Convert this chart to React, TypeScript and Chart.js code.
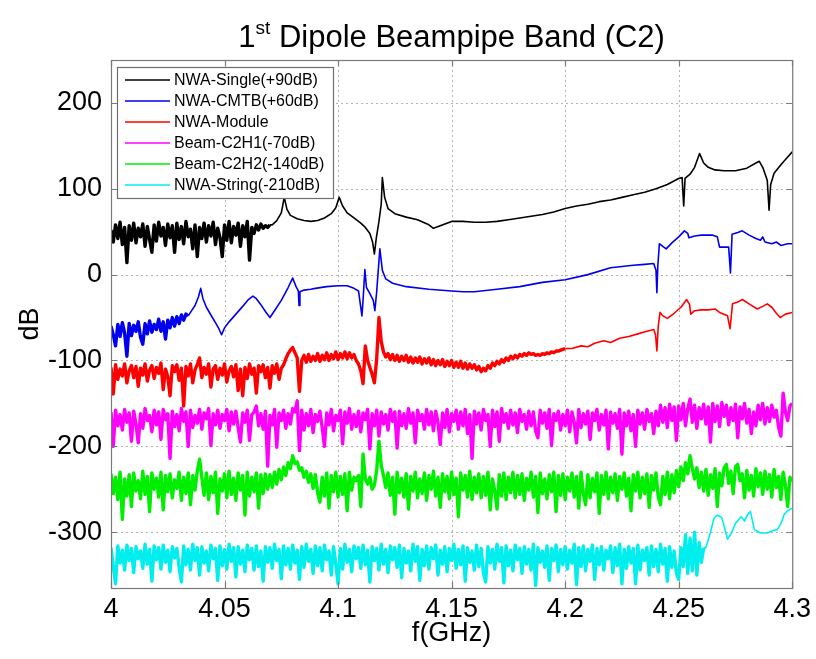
import { useEffect, useRef } from "react";
import { Chart, registerables } from "chart.js";

Chart.register(...registerables);

const FONT = '"Liberation Sans", Arial, sans-serif';

const xTicks = [4, 4.05, 4.1, 4.15, 4.2, 4.25, 4.3];
const yTicks = [-300, -200, -100, 0, 100, 200];
const xRange = [4, 4.3];
const yRange = [-365, 250];

const seriesNames = [
  "NWA-Single(+90dB)",
  "NWA-CMTB(+60dB)",
  "NWA-Module",
  "Beam-C2H1(-70dB)",
  "Beam-C2H2(-140dB)",
  "NWA-String(-210dB)",
];
const seriesColors = ["#000000", "#0000ee", "#ff0000", "#ff00ff", "#00ee00", "#00eeee"];

// dense sweep samples start at 4.000 GHz, one every 1 MHz
const sweepStart = 4.0;
const sweepStep = 0.001;

const blackSweep = [
  52, 38, 58, 42, 61, 35, 55, 14, 57, 40,
  60, 37, 54, 44, 59, 33, 56, 41, 26, 58,
  39, 61, 45, 55, 34, 59, 43, 57, 26, 60,
  41, 56, 36, 62, 44, 53, 30, 58, 21, 55,
  42, 60, 38, 57, 45, 61, 35, 54, 43, 21,
  58, 40, 62, 37, 56, 46, 60, 33, 57, 44,
  62, 17, 55, 48, 58, 52, 59, 54, 57, 55, 58,
];
const blackTail: [number, number][] = [
  [4.071, 58], [4.073, 63], [4.075, 72], [4.0763, 90], [4.0775, 76], [4.079, 69], [4.082, 65],
  [4.085, 63], [4.088, 62], [4.091, 63], [4.094, 66], [4.097, 71], [4.099, 78], [4.1005, 90],
  [4.102, 80], [4.104, 72], [4.107, 66], [4.11, 60], [4.112, 55], [4.114, 48], [4.1152, 38],
  [4.116, 24], [4.1168, 42], [4.118, 62], [4.119, 82], [4.1195, 113], [4.1205, 90], [4.122, 77],
  [4.125, 71], [4.13, 67], [4.135, 64], [4.14, 58], [4.142, 54], [4.145, 57], [4.15, 62],
  [4.155, 62], [4.16, 61], [4.165, 61], [4.17, 62], [4.175, 64], [4.18, 66], [4.185, 68],
  [4.19, 70], [4.195, 73], [4.2, 77], [4.205, 80], [4.21, 82], [4.215, 85], [4.22, 87],
  [4.225, 90], [4.23, 93], [4.235, 96], [4.24, 100], [4.245, 105], [4.25, 112], [4.2515, 113],
  [4.2522, 80], [4.2528, 112], [4.255, 117], [4.257, 125], [4.2592, 141], [4.261, 130],
  [4.263, 125], [4.266, 122], [4.27, 121], [4.275, 121], [4.28, 124], [4.284, 130], [4.2855, 132],
  [4.287, 125], [4.289, 110], [4.2898, 75], [4.2905, 105], [4.292, 118], [4.295, 128],
  [4.298, 137], [4.3, 143],
];

const blueSweep = [
  -60, -70, -83, -58, -72, -56, -68, -95, -57, -71,
  -59, -66, -55, -73, -81, -57, -69, -54, -67, -58,
  -64, -52, -66, -55, -75, -53, -62, -50, -60, -49,
  -57, -47, -53, -46, -48,
];
const blueTail: [number, number][] = [
  [4.035, -44], [4.037, -36], [4.0385, -26], [4.0395, -16], [4.0405, -28], [4.042, -38],
  [4.044, -47], [4.046, -56], [4.0475, -63], [4.0487, -70], [4.05, -62], [4.052, -55],
  [4.055, -46], [4.058, -37], [4.0605, -29], [4.0625, -25], [4.064, -28], [4.066, -35],
  [4.068, -43], [4.07, -50], [4.072, -42], [4.075, -30], [4.078, -15], [4.08, -4],
  [4.0815, -14], [4.0825, -19], [4.0828, -36], [4.0832, -20], [4.085, -18], [4.088, -17],
  [4.09, -16], [4.095, -14], [4.1, -13], [4.104, -13], [4.107, -16], [4.109, -19],
  [4.1105, -48], [4.111, -30], [4.1118, 6], [4.1125, -15], [4.114, -22], [4.1155, -30],
  [4.1162, -42], [4.117, -20], [4.1184, 30], [4.1195, 5], [4.121, -5], [4.124, -10],
  [4.13, -14], [4.14, -17], [4.15, -19], [4.155, -20], [4.16, -20], [4.17, -17], [4.18, -14],
  [4.19, -9], [4.2, -6], [4.21, 0], [4.22, 8], [4.23, 11], [4.235, 12], [4.239, 13],
  [4.24, 5], [4.2404, -21], [4.2408, 10], [4.2415, 36], [4.243, 33], [4.2445, 30],
  [4.247, 37], [4.25, 44], [4.2525, 51], [4.254, 48], [4.2545, 43], [4.257, 45], [4.26, 46],
  [4.265, 46], [4.267, 44], [4.268, 32], [4.272, 32], [4.2728, 2], [4.2735, 47], [4.276, 49],
  [4.278, 51], [4.281, 46], [4.284, 42], [4.286, 40], [4.287, 44], [4.288, 38], [4.291, 36],
  [4.293, 38], [4.295, 34], [4.298, 36], [4.3, 36],
];

const redSweep = [
  -108, -139, -105, -122, -110, -118, -104, -126, -112, -106,
  -120, -107, -130, -109, -117, -104, -124, -111, -106, -121,
  -108, -115, -103, -134, -110, -119, -141, -106, -113, -105,
  -123, -109, -153, -107, -118, -104, -126, -111, -105, -97,
  -120, -108, -116, -104, -131, -110, -106, -122, -109, -117,
  -104, -125, -112, -107, -119, -105, -135, -110, -141, -108,
  -121, -104, -116, -109, -138, -106, -113, -105, -120, -108,
  -132, -106, -115, -104, -122, -109, -105,
  -98, -92, -88, -85, -91, -97, -136, -100,
  -94, -102, -93, -101, -95, -100, -92, -101, -94, -99,
  -91, -100, -93, -98, -90, -99, -92, -97, -90, -98,
  -91, -97, -93, -100, -104,
  -112, -127, -83, -100, -108, -116, -126, -98, -50, -78, -90, -96,
  -92, -99, -93, -100, -94, -101, -95, -100, -94, -102,
  -96, -103, -97, -102, -96, -104, -98, -103, -97, -105,
  -99, -106, -100, -105, -99, -107, -101, -106, -100, -108,
  -102, -108, -101, -109, -103, -110, -104, -109, -105, -111,
  -107, -113, -109, -112, -106, -109, -103, -106, -101, -104,
  -99, -102, -97, -100, -95, -98, -94, -97, -93, -95,
  -92, -94, -91, -93, -92, -94, -93, -94, -92, -93,
  -91, -92, -90, -91, -89, -89, -88, -87, -86,
];
const redTail: [number, number][] = [
  [4.203, -86], [4.207, -83], [4.21, -84], [4.213, -80], [4.217, -77], [4.22, -79],
  [4.224, -74], [4.228, -72], [4.232, -69], [4.236, -66], [4.239, -64], [4.2398, -70],
  [4.2404, -89], [4.241, -60], [4.2418, -44], [4.243, -48], [4.245, -51], [4.248, -45],
  [4.251, -38], [4.2535, -29], [4.2548, -35], [4.2553, -46], [4.257, -42], [4.26, -41],
  [4.263, -41], [4.266, -40], [4.268, -44], [4.2715, -48], [4.2726, -63], [4.2737, -34],
  [4.276, -32], [4.278, -29], [4.281, -34], [4.2846, -40], [4.287, -37], [4.289, -34],
  [4.291, -38], [4.293, -45], [4.2947, -50], [4.297, -46], [4.3, -44],
];

const magentaSweep = [
  -160, -200, -158, -176, -163, -181, -157, -172, -161, -194,
  -159, -174, -196, -162, -179, -156, -170, -164, -183, -158,
  -175, -160, -192, -157, -169, -162, -214, -159, -177, -163,
  -182, -156, -171, -160, -200, -158, -178, -164, -173, -157,
  -180, -161, -168, -156, -199, -162, -175, -158, -179, -163,
  -170, -157, -182, -160, -174, -159, -178, -195, -161, -172,
  -158, -193, -163, -160, -153, -176, -162, -180, -159, -223,
  -164, -175, -157, -201, -161, -170, -158, -179, -162, -174,
  -156, -160, -147, -205, -158, -181, -162, -176, -157, -184,
  -163, -171, -159, -178, -200, -161, -175, -157, -182, -164,
  -170, -158, -197, -160, -173, -156, -180, -163, -177, -159,
  -183, -161, -169, -157, -203, -162, -176, -158, -188, -160,
  -174, -163, -181, -157, -171, -160, -202, -159, -176, -162,
  -179, -156, -173, -161, -196, -158, -170, -163, -180, -157,
  -175, -160, -182, -159, -172, -198, -161, -178, -157, -183,
  -162, -171, -158, -180, -160, -176, -157, -185, -163, -214,
  -159, -174, -161, -181, -157, -170, -163, -200, -158, -177,
  -160, -194, -156, -172, -162, -179, -158, -175, -161, -184,
  -157, -171, -163, -180, -159, -176, -160, -182, -190, -158,
  -173, -161, -179, -157, -199, -162, -170, -159, -181, -163,
  -176, -158, -183, -160, -172, -196, -157, -178, -162, -174,
  -159, -192, -161, -170, -157, -181, -163, -175, -158, -203,
  -160, -173, -162, -179, -157, -209, -161, -176, -159, -182,
  -163, -200, -158, -174, -161, -180, -157, -171, -162, -185,
  -159, -176, -152, -172, -155, -178, -151, -170, -154, -193,
  -153, -169, -150, -176, -156, -145, -172, -152, -179, -155,
  -168, -151, -174, -154, -195, -150, -171, -153, -177, -149,
  -165, -152, -175, -155, -170, -151, -190, -154, -168, -150,
  -173, -157, -185, -160, -176, -152, -169, -150, -174, -155,
  -171, -152, -166, -158, -178, -188, -138, -160, -170, -153, -150,
];

const greenSweep = [
  -232, -255, -236, -262, -230, -285, -238, -258, -233, -270,
  -231, -252, -240, -261, -229, -256, -235, -276, -231, -250,
  -237, -259, -230, -274, -234, -253, -232, -260, -239, -249,
  -230, -263, -236, -255, -231, -268, -234, -251, -229, -215,
  -236, -257, -231, -262, -235, -254, -230, -278, -238, -252,
  -232, -260, -229, -256, -237, -263, -231, -251, -234, -280,
  -230, -258, -236, -253, -231, -272, -233, -255, -232, -250,
  -233, -248, -230, -244, -227, -239, -224, -234, -219, -226,
  -211, -220, -218, -228, -225, -236, -229, -242, -232, -249,
  -233, -254, -265, -236, -258, -231, -272, -234, -253, -230,
  -259, -235, -256, -232, -275, -230, -251, -236, -240, -234,
  -270, -209, -238, -244, -236, -250, -245, -228, -194, -222,
  -234, -248, -231, -257, -236, -279, -230, -254, -237, -259,
  -232, -273, -235, -252, -230, -260, -238, -255, -231, -263,
  -234, -250, -229, -258, -236, -271, -232, -253, -235, -261,
  -230, -256, -237, -282, -231, -251, -234, -259, -229, -262,
  -236, -254, -232, -260, -235, -257, -230, -274, -238, -252,
  -273, -233, -258, -231, -262, -236, -254, -230, -260, -234,
  -256, -232, -263, -237, -251, -230, -259, -235, -277, -231,
  -255, -238, -261, -233, -253, -230, -276, -234, -257, -232,
  -262, -236, -252, -231, -259, -235, -272, -230, -255, -268,
  -233, -260, -237, -253, -231, -278, -234, -256, -230, -261,
  -236, -254, -232, -263, -235, -250, -231, -258, -237, -275,
  -233, -252, -230, -260, -236, -255, -232, -271, -234, -251,
  -231, -259, -268, -235, -256, -230, -261, -233, -254, -228,
  -247, -224, -240, -219, -232, -211, -226, -238, -225, -248,
  -230, -252, -227, -257, -233, -249, -226, -270, -231, -246,
  -225, -221, -243, -229, -255, -224, -221, -240, -232, -260,
  -228, -251, -234, -258, -226, -247, -231, -256, -229, -250,
  -233, -259, -227, -248, -235, -262, -230, -245, -270, -236, -241,
];

const cyanSweep = [
  -318, -340, -360, -316, -336, -321, -344, -315, -333, -319,
  -347, -317, -331, -322, -342, -314, -337, -320, -357, -316,
  -332, -318, -343, -315, -335, -321, -346, -317, -330, -319,
  -341, -358, -316, -338, -320, -344, -314, -333, -318, -350,
  -317, -336, -322, -345, -315, -331, -319, -356, -316, -339,
  -320, -343, -314, -334, -318, -352, -317, -337, -321, -346,
  -315, -332, -319, -344, -316, -340, -322, -357, -317, -335,
  -318, -342, -314, -333, -320, -354, -316, -338, -319, -343,
  -315, -336, -321, -355, -317, -341, -314, -334, -320, -348,
  -316, -339, -318, -345, -315, -332, -322, -350, -317, -337,
  -360, -319, -343, -314, -335, -320, -346, -316, -331, -318,
  -342, -315, -338, -321, -358, -317, -333, -319, -344, -314,
  -337, -320, -347, -316, -332, -318, -341, -315, -353, -319,
  -336, -322, -345, -314, -334, -317, -356, -320, -339, -316,
  -343, -318, -331, -315, -350, -321, -337, -317, -346, -319,
  -333, -314, -342, -320, -338, -316, -357, -318, -335, -322,
  -344, -315, -340, -319, -347, -358, -317, -336, -320, -343,
  -314, -334, -318, -359, -316, -339, -321, -345, -315, -332,
  -319, -348, -317, -337, -320, -344, -314, -362, -318, -335,
  -322, -341, -316, -356, -319, -333, -315, -346, -320, -338,
  -317, -343, -321, -336, -314, -361, -318, -340, -316, -345,
  -320, -334, -315, -355, -319, -338, -317, -344, -321, -331,
  -316, -347, -318, -339, -314, -360, -320, -342, -317, -336,
  -319, -360, -315, -344, -321, -333, -318, -350, -316, -340,
  -320, -346, -314, -337, -319, -357, -317, -341, -322, -348,
  -355, -318, -340, -303, -348, -307, -345, -300, -350, -312, -335, -318,
];
const cyanTail: [number, number][] = [
  [4.262, -318], [4.264, -300], [4.2655, -284], [4.267, -280], [4.269, -283], [4.2705, -298],
  [4.2715, -308], [4.273, -302], [4.275, -290], [4.2775, -282], [4.279, -287], [4.2805, -279],
  [4.2816, -276], [4.2833, -297], [4.286, -301], [4.289, -301], [4.2915, -298], [4.2934, -297],
  [4.295, -290], [4.2965, -279], [4.298, -275], [4.3, -272],
];

const sweeps = [blackSweep, blueSweep, redSweep, magentaSweep, greenSweep, cyanSweep];
const tails: [number, number][][] = [blackTail, blueTail, redTail, [], [], cyanTail];

const titleMain = "1";
const titleSup = "st";
const titleRest = " Dipole Beampipe Band (C2)";
const xTitle = "f(GHz)";
const yTitle = "dB";

function buildPoints(sweep: number[], tail: [number, number][]) {
  const pts = sweep.map((v, i) => ({ x: +(sweepStart + i * sweepStep).toFixed(4), y: v }));
  return pts.concat(tail.map(([f, v]) => ({ x: f, y: v })));
}

const framePlugin = {
  id: "frame",
  beforeDatasetsDraw(chart: any) {
    const { ctx, chartArea: a, scales } = chart;
    ctx.save();
    ctx.strokeStyle = "#b4b4b4";
    ctx.lineWidth = 1;
    ctx.setLineDash([2, 3]);
    xTicks.forEach((t) => {
      const px = Math.round(scales.x.getPixelForValue(t)) + 0.5;
      if (px <= a.left + 1 || px >= a.right - 1) return;
      ctx.beginPath();
      ctx.moveTo(px, a.top);
      ctx.lineTo(px, a.bottom);
      ctx.stroke();
    });
    yTicks.forEach((t) => {
      const py = Math.round(scales.y.getPixelForValue(t)) + 0.5;
      ctx.beginPath();
      ctx.moveTo(a.left, py);
      ctx.lineTo(a.right, py);
      ctx.stroke();
    });
    ctx.restore();
  },
  afterDatasetsDraw(chart: any) {
    const { ctx, chartArea: a, scales } = chart;
    ctx.save();
    ctx.strokeStyle = "#7a7a7a";
    ctx.lineWidth = 1.2;
    ctx.setLineDash([]);
    ctx.strokeRect(a.left + 0.5, a.top + 0.5, a.right - a.left, a.bottom - a.top);
    const tl = 6;
    ctx.beginPath();
    xTicks.forEach((t) => {
      const px = Math.round(scales.x.getPixelForValue(t)) + 0.5;
      ctx.moveTo(px, a.bottom);
      ctx.lineTo(px, a.bottom - tl);
      ctx.moveTo(px, a.top);
      ctx.lineTo(px, a.top + tl);
    });
    yTicks.forEach((t) => {
      const py = Math.round(scales.y.getPixelForValue(t)) + 0.5;
      ctx.moveTo(a.left, py);
      ctx.lineTo(a.left + tl, py);
      ctx.moveTo(a.right, py);
      ctx.lineTo(a.right - tl, py);
    });
    ctx.stroke();
    ctx.restore();
  },
};

const titlePlugin = {
  id: "supTitle",
  afterDraw(chart: any) {
    const { ctx, chartArea: a } = chart;
    ctx.save();
    ctx.fillStyle = "#000";
    ctx.textBaseline = "alphabetic";
    const big = `31px ${FONT}`;
    const small = `19px ${FONT}`;
    ctx.font = big;
    const w1 = ctx.measureText(titleMain).width;
    const w3 = ctx.measureText(titleRest).width;
    ctx.font = small;
    const w2 = ctx.measureText(titleSup).width;
    const total = w1 + w2 + w3;
    const cx = (a.left + a.right) / 2;
    let x = cx - total / 2;
    const base = 47;
    ctx.font = big;
    ctx.fillText(titleMain, x, base);
    x += w1;
    ctx.font = small;
    ctx.fillText(titleSup, x, base - 13);
    x += w2;
    ctx.font = big;
    ctx.fillText(titleRest, x, base);
    ctx.restore();
  },
};

const legendPlugin = {
  id: "boxLegend",
  afterDraw(chart: any) {
    const { ctx, chartArea: a } = chart;
    const left = a.left + 6;
    const top = a.top + 7;
    const w = 216;
    const rowH = 21;
    const h = 131;
    ctx.save();
    ctx.fillStyle = "#ffffff";
    ctx.fillRect(left, top, w, h);
    ctx.strokeStyle = "#6e6e6e";
    ctx.lineWidth = 1.2;
    ctx.strokeRect(left + 0.5, top + 0.5, w, h);
    ctx.font = `16px ${FONT}`;
    ctx.textBaseline = "middle";
    seriesNames.forEach((name, i) => {
      const y = top + 13 + i * rowH;
      ctx.strokeStyle = seriesColors[i];
      ctx.lineWidth = 1.5;
      ctx.beginPath();
      ctx.moveTo(left + 8, y);
      ctx.lineTo(left + 53, y);
      ctx.stroke();
      ctx.fillStyle = "#000";
      ctx.fillText(name, left + 57, y + 1);
    });
    ctx.restore();
  },
};

export default function App() {
  const ref = useRef<HTMLCanvasElement | null>(null);

  useEffect(() => {
    if (!ref.current) return;
    const datasets = seriesNames.map((name, i) => {
      const sweepLen = sweeps[i].length;
      return {
        label: name,
        data: buildPoints(sweeps[i], tails[i]),
        borderColor: seriesColors[i],
        backgroundColor: seriesColors[i],
        borderWidth: 1.6,
        pointRadius: 0,
        tension: 0,
        fill: false,
        borderJoinStyle: "round",
        segment: {
          borderWidth: (c: any) => (c.p0DataIndex < sweepLen - 1 ? 3.4 : 1.6),
        },
      };
    });
    const tickFont = { family: FONT, size: 27 };
    const chart = new Chart(ref.current, {
      type: "line",
      data: { datasets },
      plugins: [framePlugin, titlePlugin, legendPlugin],
      options: {
        animation: false,
        responsive: false,
        devicePixelRatio: 1,
        layout: { padding: { left: 0, top: 60, right: 21, bottom: 0 } },
        plugins: {
          legend: { display: false },
          title: { display: false },
          tooltip: { enabled: false },
        },
        scales: {
          x: {
            type: "linear",
            min: xRange[0],
            max: xRange[1],
            afterBuildTicks: (s: any) => {
              s.ticks = xTicks.map((v) => ({ value: v }));
            },
            afterFit: (s: any) => {
              s.height = 71;
            },
            grid: { display: false, drawTicks: false },
            border: { display: false },
            ticks: {
              autoSkip: false,
              maxRotation: 0,
              padding: 5,
              color: "#000",
              font: tickFont,
              callback: (v: any) => String(Number(Number(v).toFixed(2))),
            },
            title: {
              display: true,
              text: xTitle,
              color: "#000",
              font: tickFont,
              padding: { top: 0, bottom: 9 },
            },
          },
          y: {
            type: "linear",
            min: yRange[0],
            max: yRange[1],
            afterBuildTicks: (s: any) => {
              s.ticks = yTicks.map((v) => ({ value: v }));
            },
            afterFit: (s: any) => {
              s.width = 111;
            },
            grid: { display: false, drawTicks: false },
            border: { display: false },
            ticks: {
              padding: 9,
              color: "#000",
              font: tickFont,
              callback: (v: any) => String(v),
            },
            title: {
              display: true,
              text: yTitle,
              color: "#000",
              font: tickFont,
              padding: { top: 14, bottom: 0 },
            },
          },
        },
      } as any,
    });
    return () => chart.destroy();
  }, []);

  return (
    <div style={{ position: "absolute", left: 0, top: 0, width: 816, height: 659, background: "#fff" }}>
      <canvas ref={ref} width={816} height={659} style={{ display: "block", width: 816, height: 659 }} />
    </div>
  );
}
